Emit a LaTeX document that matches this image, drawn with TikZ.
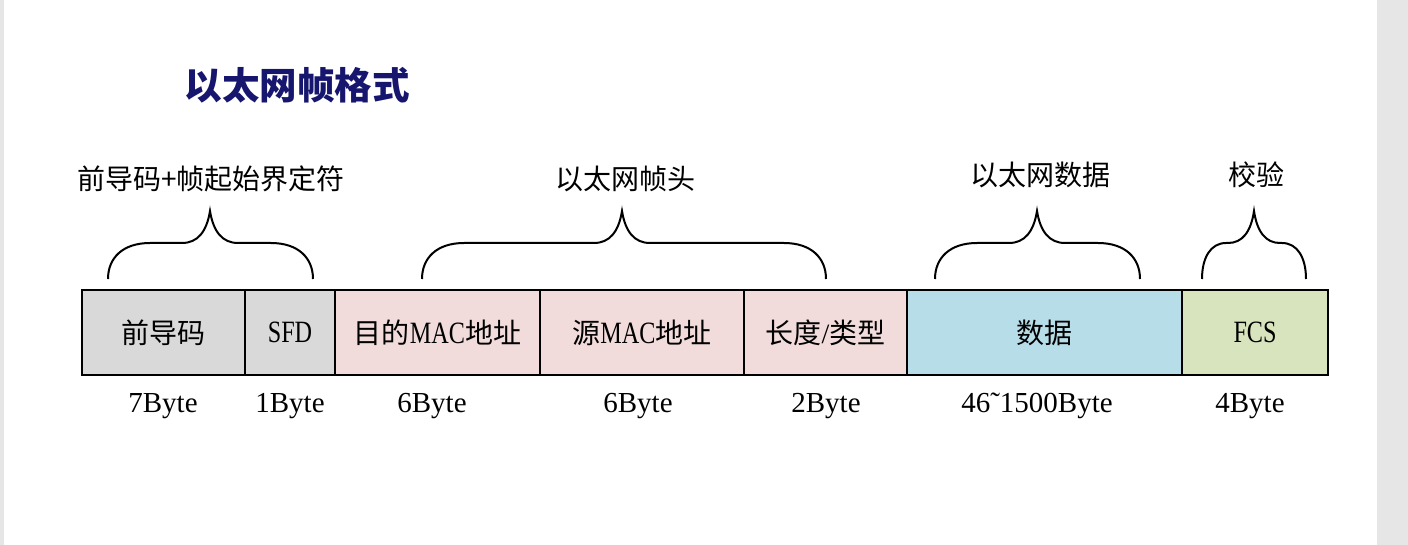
\documentclass[tikz,border=0pt]{standalone}
\usepackage{fontspec}
\usepackage{graphicx}
\setmainfont{Liberation Serif}
\newfontfamily\cjk{Noto Sans CJK SC}
\newcommand{\nar}[1]{\scalebox{0.78}[1]{\fontsize{31}{31}\selectfont #1}}
\definecolor{sidegray}{RGB}{230,230,230}
\definecolor{fgray}{RGB}{217,217,217}
\definecolor{fpink}{RGB}{242,220,219}
\definecolor{fblue}{RGB}{183,221,232}
\definecolor{fgreen}{RGB}{215,228,189}
\definecolor{titleblue}{RGB}{22,22,110}
\newcommand{\drawbrace}[5]{% x0, peak, x1, side length a, peak length b
  \draw[brc] (#1,279) .. controls (#1,258) and (#1+0.35*#4,243) .. (#1+#4,243)
    -- (#2-#5,243) .. controls (#2-0.45*#5,243) and (#2-0.12*#5,232) .. (#2,211)
    .. controls (#2+0.12*#5,232) and (#2+0.45*#5,243) .. (#2+#5,243)
    -- (#3-#4,243) .. controls (#3-0.35*#4,243) and (#3,258) .. (#3,279);}
\begin{document}
\begin{tikzpicture}[x=1pt,y=-1pt,
  field/.style={draw=black, line width=2.5pt, minimum height=85pt, inner sep=0pt,
    font=\fontsize{28}{28}\selectfont},
  bytelab/.style={inner sep=0pt, font=\fontsize{29}{29}\selectfont},
  toplab/.style={inner sep=0pt, font=\cjk\fontsize{28}{28}\selectfont},
  brc/.style={line width=2pt, black}]
\useasboundingbox (0,0) rectangle (1408,545);
\fill[white] (0,0) rectangle (1408,545);
\fill[sidegray] (0,0) rectangle (4,545);
\fill[sidegray] (1377,0) rectangle (1408,545);

\node[inner sep=0pt, text=titleblue, font=\cjk\bfseries\fontsize{37.5}{37.5}\selectfont] (title) at (297,85) {以太网帧格式};

\node[field, fill=fgray, minimum width=163pt] (pre) at (163.5,332.5) {\cjk 前导码};
\node[field, fill=fgray, minimum width=90pt] (sfd) at (290,332.5) {\nar{SFD}};
\node[field, fill=fpink, minimum width=205pt] (dst) at (437.5,332.5) {{\cjk 目的}\nar{MAC}{\cjk 地址}};
\node[field, fill=fpink, minimum width=204pt] (src) at (642,332.5) {{\cjk 源}\nar{MAC}{\cjk 地址}};
\node[field, fill=fpink, minimum width=163pt] (len) at (825.5,332.5) {{\cjk 长度}/{\cjk 类型}};
\node[field, fill=fblue, minimum width=275pt] (dat) at (1044.5,332.5) {\cjk 数据};
\node[field, fill=fgreen, minimum width=146pt] (fcs) at (1255,332.5) {\nar{FCS}};

\node[bytelab] (b1) at (163,406) {7Byte};
\node[bytelab] (b2) at (290,406) {1Byte};
\node[bytelab] (b3) at (432,406) {6Byte};
\node[bytelab] (b4) at (638,406) {6Byte};
\node[bytelab] (b5) at (826,406) {2Byte};
\node[bytelab] (b6) at (1037,406) {46˜1500Byte};
\node[bytelab] (b7) at (1250,406) {4Byte};

\drawbrace{108}{210}{313}{42}{28}
\drawbrace{422}{622}{826}{42}{28}
\drawbrace{935}{1037}{1140}{42}{28}
\drawbrace{1202}{1254}{1306}{24}{26}

\node[toplab] (l1) at (211,179) {前导码+帧起始界定符};
\node[toplab] (l2) at (625,179) {以太网帧头};
\node[toplab] (l3) at (1040,175) {以太网数据};
\node[toplab] (l4) at (1256,175) {校验};
\end{tikzpicture}
\end{document}
